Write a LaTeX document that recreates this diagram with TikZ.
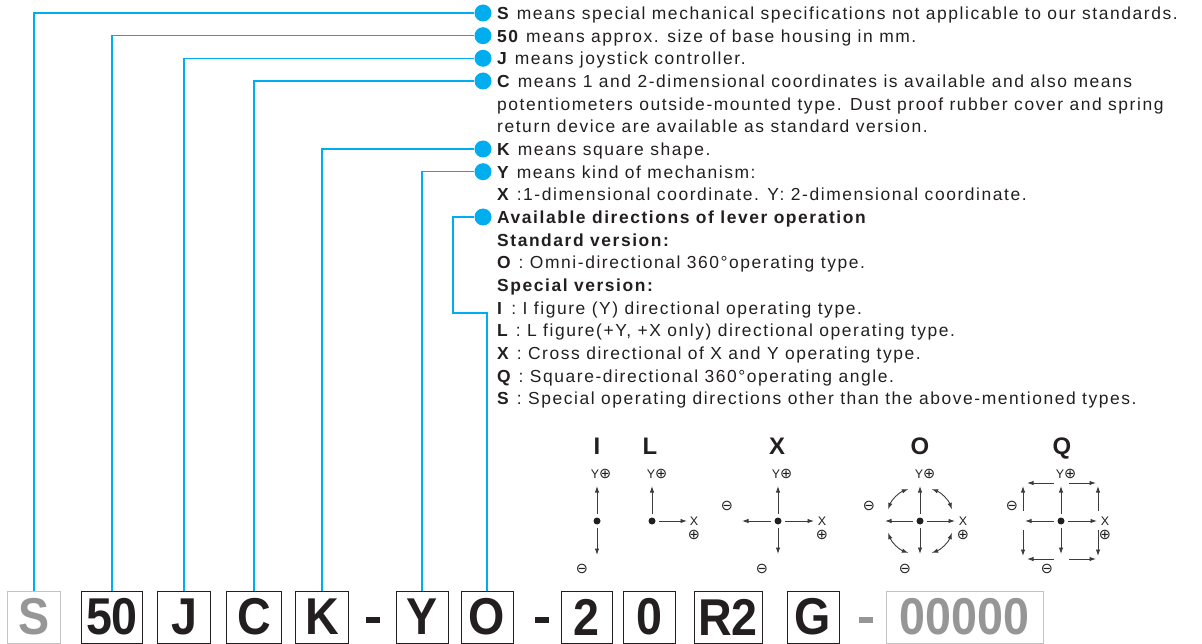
\documentclass[tikz,border=0pt]{standalone}
\usepackage{fontspec}
\setmainfont{Liberation Sans}
\newfontfamily\notefont{Liberation Sans}[LetterSpace=9]
\newfontfamily\symfont{DejaVu Sans}
\usetikzlibrary{arrows.meta}

\definecolor{leadcyan}{RGB}{0,174,239}
\definecolor{ink}{RGB}{35,31,32}
\definecolor{greyink}{RGB}{150,150,150}
\definecolor{greyframe}{RGB}{195,195,195}
\definecolor{arrowgrey}{RGB}{60,60,60}

% narrow the big code letters a little
\newcommand{\squeeze}[1]{\scalebox{0.9}[1]{#1}}
\newcommand{\plus}{{\symfont\fontsize{14.5}{15}\selectfont ⊕}}
\newcommand{\minus}{{\symfont\fontsize{14.5}{15}\selectfont ⊖}}

\begin{document}
\begin{tikzpicture}[x=1bp, y=-1bp,
    lead/.style={draw=leadcyan, line width=1.3bp},
    bullet/.style={circle, fill=leadcyan, inner sep=0pt, minimum size=17bp},
    txt/.style={anchor=base west, inner sep=0pt, text=ink, font=\notefont\fontsize{17.5}{21}\selectfont},
    codebox/.style={draw=ink, line width=0.9bp, minimum height=52bp, inner sep=0pt, text=ink, font=\fontsize{52}{52}\selectfont\bfseries},
    greybox/.style={codebox, draw=greyframe, text=greyink},
    bar/.style={fill=ink, inner sep=0pt, minimum width=14bp, minimum height=6bp},
    dirhead/.style={anchor=base, text=ink, font=\fontsize{24}{24}\selectfont\bfseries},
    pivot/.style={circle, fill=ink, inner sep=0pt, minimum size=7bp, outer sep=3.5bp},
    dir/.style={draw=arrowgrey, line width=0.9bp, -{Latex[length=6.5bp,width=4.5bp]}},
    sign/.style={inner sep=0pt, text=ink, font=\fontsize{12.5}{13}\selectfont}
]
\useasboundingbox (0,0) rectangle (1202,644);

    % --- Code boxes along the bottom ---
    \node[greybox, minimum width=53bp] (kS) at (34,617) {\squeeze{S}};
    \node[codebox, minimum width=61bp] (k50) at (112,617) {\squeeze{50}};
    \node[codebox, minimum width=53bp] (kJ) at (184,617) {\squeeze{J}};
    \node[codebox, minimum width=55bp] (kC) at (254,617) {\squeeze{C}};
    \node[codebox, minimum width=53bp] (kK) at (322,617) {\squeeze{K}};
    \node[bar] (dashA) at (372.5,620) {};
    \node[codebox, minimum width=52bp] (kY) at (422,617) {\squeeze{Y}};
    \node[codebox, minimum width=52bp] (kO) at (487,617) {\squeeze{O}};
    \node[bar] (dashB) at (542,620) {};
    \node[codebox, minimum width=51bp] (k2) at (586.5,617) {\squeeze{2}};
    \node[codebox, minimum width=52bp] (k0) at (649,617) {\squeeze{0}};
    \node[codebox, minimum width=68bp] (kR) at (728,617) {\squeeze{R2}};
    \node[codebox, minimum width=52bp] (kG) at (813,617) {\squeeze{G}};
    \node[bar, fill=greyink] (dashC) at (866,620) {};
    \node[greybox, minimum width=157bp] (kN) at (964.5,617) {\squeeze{00000}};

    % --- Bullets in front of the explanations ---
    \node[bullet] (bS) at (483,13) {};
    \node[bullet] (b50) at (483,35.7) {};
    \node[bullet] (bJ) at (483,58.3) {};
    \node[bullet] (bC) at (483,81) {};
    \node[bullet] (bK) at (483,149) {};
    \node[bullet] (bY) at (483,171.7) {};
    \node[bullet] (bO) at (483,217) {};

    % bend of the last lead line
    \coordinate (oBend) at (453,313);

    % --- Lead lines from bullets down to the boxes ---
    \draw[lead] (bS) -| (kS);
    \draw[lead] (b50) -| (k50);
    \draw[lead] (bJ) -| (kJ);
    \draw[lead] (bC) -| (kC);
    \draw[lead] (bK) -| (kK);
    \draw[lead] (bY) -| (kY);
    \draw[lead] (bO) -| (oBend) -| (kO);

    % --- Explanations ---
    \node[txt] (tS) at (497,19.5) {\textbf{S} means special mechanical specifications not applicable to our standards.};
    \node[txt] (t50) at (497,42.2) {\textbf{50} means approx. size of base housing in mm.};
    \node[txt] (tJ) at (497,64.8) {\textbf{J} means joystick controller.};
    \node[txt] (tC) at (497,87.5) {\textbf{C} means 1 and 2-dimensional coordinates is available and also means};
    \node[txt] (tC2) at (497,110.2) {potentiometers outside-mounted type. Dust proof rubber cover and spring};
    \node[txt] (tC3) at (497,132.8) {return device are available as standard version.};
    \node[txt] (tK) at (497,155.5) {\textbf{K} means square shape.};
    \node[txt] (tY) at (497,178.2) {\textbf{Y} means kind of mechanism:};
    \node[txt] (tY2) at (497,200.8) {\textbf{X} :1-dimensional coordinate. Y: 2-dimensional coordinate.};
    \node[txt] (tDir) at (497,223.5) {\textbf{Available directions of lever operation}};
    \node[txt] (tStd) at (497,246.2) {\textbf{Standard version:}};
    \node[txt] (tO) at (497,268.8) {\textbf{O} : Omni-directional 360°operating type.};
    \node[txt] (tSpc) at (497,291.5) {\textbf{Special version:}};
    \node[txt] (tI) at (497,314.2) {\textbf{I}\hspace{0.45em}: I figure (Y) directional operating type.};
    \node[txt] (tL) at (497,336.8) {\textbf{L} : L figure(+Y, +X only) directional operating type.};
    \node[txt] (tX) at (497,359.5) {\textbf{X} : Cross directional of X and Y operating type.};
    \node[txt] (tQ) at (497,382.2) {\textbf{Q} : Square-directional 360°operating angle.};
    \node[txt] (tSp) at (497,404.8) {\textbf{S} : Special operating directions other than the above-mentioned types.};

    % --- Direction sketches: headings ---
    \node[dirhead] (hI) at (597,454) {I};
    \node[dirhead] (hL) at (650,454) {L};
    \node[dirhead] (hX) at (777,454) {X};
    \node[dirhead] (hO) at (920,454) {O};
    \node[dirhead] (hQ) at (1062,454) {Q};

    % I : up and down
    \node[pivot] (dI) at (597,521) {};
    \coordinate (uI) at (597,486);
    \coordinate (sI) at (597,555);
    \draw[dir] (dI) -- (uI);
    \draw[dir] (dI) -- (sI);
    \node[sign] at (601,474) {Y\plus};
    \node[sign] at (582,569) {\minus};

    % L : up and right
    \node[pivot] (dL) at (652,521) {};
    \coordinate (uL) at (652,486);
    \coordinate (rL) at (687,521);
    \draw[dir] (dL) -- (uL);
    \draw[dir] (dL) -- (rL);
    \node[sign] at (657,474) {Y\plus};
    \node[sign] at (694,521) {X};
    \node[sign] at (694,535) {\plus};

    % X : cross
    \node[pivot] (dX) at (778,521) {};
    \coordinate (uX) at (778,486);
    \coordinate (sX) at (778,554);
    \coordinate (lX) at (742,521);
    \coordinate (rX) at (814,521);
    \draw[dir] (dX) -- (uX);
    \draw[dir] (dX) -- (sX);
    \draw[dir] (dX) -- (lX);
    \draw[dir] (dX) -- (rX);
    \node[sign] at (782,474) {Y\plus};
    \node[sign] at (727,506) {\minus};
    \node[sign] at (822,521) {X};
    \node[sign] at (822,535) {\plus};
    \node[sign] at (762,569) {\minus};

    % O : cross plus curved arrows
    \node[pivot] (dO) at (920,521) {};
    \coordinate (uO) at (920,486);
    \coordinate (sO) at (920,554);
    \coordinate (lO) at (885,521);
    \coordinate (rO) at (955,521);
    \draw[dir] (dO) -- (uO);
    \draw[dir] (dO) -- (sO);
    \draw[dir] (dO) -- (lO);
    \draw[dir] (dO) -- (rO);
    \foreach \a in {20,110,200,290}
        \draw[dir, {Latex[length=6.5bp,width=4.5bp]}-{Latex[length=6.5bp,width=4.5bp]}] (dO) ++(\a:34) arc[start angle=\a, end angle=\a+50, radius=34];
    \node[sign] at (925,474) {Y\plus};
    \node[sign] at (869,506) {\minus};
    \node[sign] at (963,521) {X};
    \node[sign] at (963,535) {\plus};
    \node[sign] at (905,569) {\minus};

    % Q : cross plus square frame
    \node[pivot] (dQ) at (1061,521) {};
    \coordinate (uQ) at (1061,486);
    \coordinate (sQ) at (1061,554);
    \coordinate (lQ) at (1025,521);
    \coordinate (rQ) at (1097,521);
    \draw[dir] (dQ) -- (uQ);
    \draw[dir] (dQ) -- (sQ);
    \draw[dir] (dQ) -- (lQ);
    \draw[dir] (dQ) -- (rQ);
    \foreach \ya in {483,559}{
        \draw[dir] (1054,\ya) -- (1027,\ya);
        \draw[dir] (1069,\ya) -- (1096,\ya);
    }
    \foreach \xa in {1023,1098}{
        \draw[dir] (\xa,511) -- (\xa,486);
        \draw[dir] (\xa,530) -- (\xa,556);
    }
    \node[sign] at (1066,474) {Y\plus};
    \node[sign] at (1012,506) {\minus};
    \node[sign] at (1105,521) {X};
    \node[sign] at (1105,535) {\plus};
    \node[sign] at (1047,569) {\minus};

\end{tikzpicture}
\end{document}
